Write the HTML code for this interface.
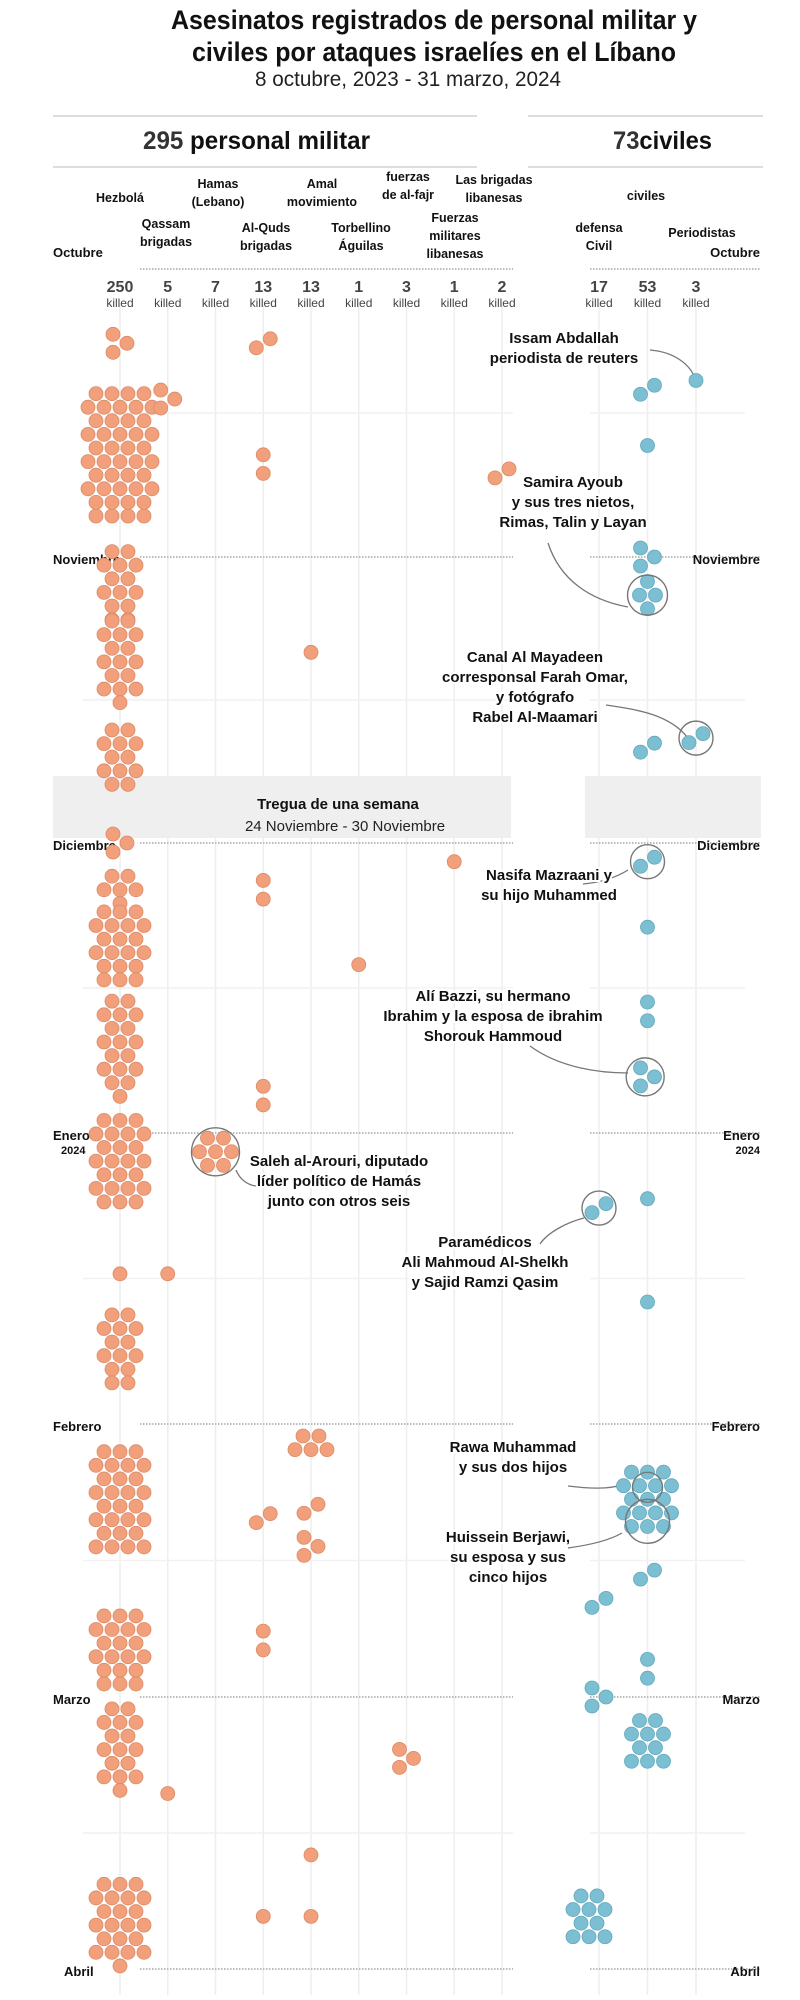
<!DOCTYPE html>
<html><head><meta charset="utf-8">
<style>
html,body{margin:0;padding:0;background:#fff;}
svg{display:block;}
text{font-family:"Liberation Sans Narrow","Liberation Sans",sans-serif;}
.b{font-weight:bold;fill:#111;}
</style></head>
<body>
<svg id="chart" width="800" height="2000" viewBox="0 0 800 2000" xmlns="http://www.w3.org/2000/svg">
<g>
<text x="171" y="29" textLength="526" lengthAdjust="spacingAndGlyphs" class="b" font-size="27">Asesinatos registrados de personal militar y</text>
<text x="192" y="61" textLength="484" lengthAdjust="spacingAndGlyphs" class="b" font-size="27">civiles por ataques israelíes en el Líbano</text>
<text x="255" y="86" textLength="306" lengthAdjust="spacingAndGlyphs" font-size="21" fill="#222">8 octubre, 2023 - 31 marzo, 2024</text>
</g>
<g>
<line x1="53" y1="116" x2="477" y2="116" stroke="#ddd" stroke-width="2"/>
<line x1="528" y1="116" x2="763" y2="116" stroke="#ddd" stroke-width="2"/>
<line x1="53" y1="167" x2="477" y2="167" stroke="#ddd" stroke-width="2"/>
<line x1="528" y1="167" x2="763" y2="167" stroke="#ddd" stroke-width="2"/>
<text x="143" y="149" font-size="25" textLength="227" lengthAdjust="spacingAndGlyphs" class="b"><tspan fill="#333">295</tspan> personal militar</text>
<text x="613" y="149" font-size="25" textLength="99" lengthAdjust="spacingAndGlyphs" class="b"><tspan fill="#333">73</tspan>civiles</text>
</g>
<g id="grid"></g>
<rect x="53" y="776" width="458" height="62" fill="#efefef"/>
<rect x="585" y="776" width="176" height="62" fill="#efefef"/>
<text x="338" y="809" text-anchor="middle" class="b" font-size="15">Tregua de una semana</text>
<text x="345" y="831" text-anchor="middle" font-size="15" fill="#222">24 Noviembre - 30 Noviembre</text>
<g id="months"></g>
<g id="heads"></g>
<g id="leaders" fill="none" stroke="#777" stroke-width="1.3">
<path d="M650,350 C675,352 690,365 695,378"/>
<path d="M548,543 C560,580 590,600 628,607"/>
<path d="M606,705 C640,710 670,715 688,738"/>
<path d="M583,884 C605,882 620,875 628,870"/>
<path d="M530,1046 C560,1068 600,1073 628,1073"/>
<path d="M236,1170 C240,1180 248,1185 256,1186"/>
<path d="M540,1244 C548,1232 568,1222 584,1218"/>
<path d="M568,1486 C600,1490 615,1488 628,1483"/>
<path d="M568,1548 C590,1545 610,1540 622,1533"/>
</g>
<g id="dots"></g>
<g id="notes"></g>
</svg>
<script>
// ---- data ----
const categories = ["Hezbolá","Qassam brigadas","Hamas (Lebano)","Al-Quds brigadas","Amal movimiento","Torbellino Águilas","fuerzas de al-fajr","Fuerzas militares libanesas","Las brigadas libanesas","defensa Civil","civiles","Periodistas"];
const killedLabels = ["250","5","7","13","13","1","3","1","2","17","53","3"];
const groupCategory = [0,0,0,0,0,0,0,0,0,0,0,0,0,0,0,0, 1,1,1, 2, 3,3,3,3,3,3,3,3,3,3,3, 4,4,4,4,4,4, 5, 6, 7, 8, 9,9,9,9, 10,10,10,10,10,10,10,10,10,10,10,10,10,10,10,10,10, 11,11];
const groupDate = ["2023-10-09","2023-10-21","2023-11-04","2023-11-12","2023-11-22","2023-12-01","2023-12-06","2023-12-12","2023-12-23","2024-01-04","2024-01-16","2024-01-24","2024-02-09","2024-02-25","2024-03-07","2024-03-27",
 "2023-10-15","2024-01-16","2024-03-12",
 "2024-01-03",
 "2023-10-09","2023-10-21","2023-10-23","2023-12-05","2023-12-07","2023-12-27","2023-12-29","2024-02-11","2024-02-23","2024-02-25","2024-03-26",
 "2023-11-11","2024-02-03","2024-02-10","2024-02-14","2024-03-19","2024-03-26",
 "2023-12-14","2024-03-08","2023-12-03","2023-10-23",
 "2024-01-09","2024-02-20","2024-03-01","2024-03-26",
 "2023-10-14","2023-10-20","2023-11-01","2023-11-05","2023-11-21","2023-12-03","2023-12-10","2023-12-18","2023-12-20","2023-12-26","2024-01-08","2024-01-19","2024-02-09","2024-02-17","2024-02-26","2024-02-28","2024-03-06",
 "2023-10-13","2023-11-20"];
const groupCount = [3,44,14,16,12,3,6,20,18,24,1,14,28,20,16,22,
 3,1,1,
 7,
 2,1,1,1,1,1,1,2,1,1,1,
 1,5,2,3,1,1,
 1,3,1,2,
 2,2,3,10,
 2,1,3,4,2,2,1,1,1,3,1,1,17,2,1,1,10,
 1,2];
const monthLabels = ["Octubre","Noviembre","Diciembre","Enero","Febrero","Marzo","Abril"];
const monthStarts = ["2023-10-01","2023-11-01","2023-12-01","2024-01-01","2024-02-01","2024-03-01","2024-04-01"];
// annotations: group index that is circled, text lines
const noteGroups = [62,48,63,50,54,19,41,57,57];
const noteText = [
 ["Issam Abdallah","periodista de reuters"],
 ["Samira Ayoub","y sus tres nietos,","Rimas, Talin y Layan"],
 ["Canal Al Mayadeen","corresponsal Farah Omar,","y fotógrafo","Rabel Al-Maamari"],
 ["Nasifa Mazraani y","su hijo Muhammed"],
 ["Alí Bazzi, su hermano","Ibrahim y la esposa de ibrahim","Shorouk Hammoud"],
 ["Saleh al-Arouri, diputado","líder político de Hamás","junto con otros seis"],
 ["Paramédicos","Ali Mahmoud Al-Shelkh","y Sajid Ramzi Qasim"],
 ["Rawa Muhammad","y sus dos hijos"],
 ["Huissein Berjawi,","su esposa y sus","cinco hijos"]];

// ---- scales ----
const NS="http://www.w3.org/2000/svg";
const DAY=86400000;
const t0=Date.UTC(2023,9,1);
function dayNum(s){const p=s.split("-");return (Date.UTC(+p[0],+p[1]-1,+p[2])-t0)/DAY;}
const monthDays=monthStarts.map(dayNum);
const axisTop=269, axisPix=[0,288,574,864,1155,1428,1700];
function yScale(s){const d=dayNum(s);
 for(let i=0;i<monthDays.length-1;i++){ if(d<=monthDays[i+1]||i==monthDays.length-2){
  const f=(d-monthDays[i])/(monthDays[i+1]-monthDays[i]); return axisTop+axisPix[i]+f*(axisPix[i+1]-axisPix[i]);}}
}
function xScale(ci){ return ci<9 ? 120+ci*47.75 : 599+(ci-9)*48.5; }
function mk(tag,attrs,parent){const e=document.createElementNS(NS,tag);for(const k in attrs)e.setAttribute(k,attrs[k]);parent.appendChild(e);return e;}

// ---- grid ----
const grid=document.getElementById("grid");
categories.forEach((c,i)=>{const l=mk("line",{x1:xScale(i),x2:xScale(i),y1:305,y2:1995,stroke:"#eeeeee","stroke-width":1.5},grid);
 
 });
for(let i=0;i<monthStarts.length-1;i++){
 const ym=(yScale(monthStarts[i])+yScale(monthStarts[i+1]))/2;
 [[83,513],[590,745]].forEach(r=>{const l=mk("line",{x1:r[0],x2:r[1],y1:ym,y2:ym,stroke:"#f1f1f1","stroke-width":1.5},grid);
  
  });
}
// ---- months ----
const mg=document.getElementById("months");
monthStarts.forEach((m,i)=>{
 const y=yScale(m);
 [[140,513],[590,760]].forEach(r=>{const l=mk("line",{x1:r[0],x2:r[1],y1:y,y2:y,stroke:"#bbb","stroke-width":2,"stroke-dasharray":"1.5 1.5"},mg);
  
  });
 const ly = i==0 ? y-12 : y+7;
 const lt=mk("text",{x: i==6?64:53, y:ly,"font-size":13,"class":"b"},mg);
 lt.textContent=monthLabels[i];
 
 
 const rt=mk("text",{x:760,y:ly,"font-size":13,"class":"b","text-anchor":"end"},mg);
 rt.textContent=monthLabels[i];
 
 
 if(i==3){[61,760].forEach((x,k)=>{const t=mk("text",{x:x,y:y+21,"font-size":11,"class":"b","text-anchor":k?"end":"start",fill:"#333"},mg);t.textContent="2024";
  
  });}
});
// ---- column headers ----
const hg=document.getElementById("heads");
const headLines=[["Hezbolá"],["Qassam","brigadas"],["Hamas","(Lebano)"],["Al-Quds","brigadas"],["Amal","movimiento"],["Torbellino","Águilas"],["fuerzas","de al-fajr"],["Fuerzas","militares","libanesas"],["Las brigadas","libanesas"],["defensa","Civil"],["civiles"],["Periodistas"]];
const headY=[202,228,188,232,188,232,181,222,184,232,200,237];
const headX=[120,166,218,266,322,361,408,455,494,599,646,702];
headLines.forEach((ls,i)=>{ls.forEach((s,k)=>{const t=mk("text",{x:headX[i],y:headY[i]+k*18,"text-anchor":"middle","font-size":12.5,"class":"b"},hg);t.textContent=s;
  
  });});
killedLabels.forEach((v,i)=>{const t=mk("text",{x:xScale(i),y:292,"text-anchor":"middle","font-size":16,"font-weight":"bold",fill:"#444"},hg);t.textContent=v;
 
 
 const k=mk("text",{x:xScale(i),y:307,"text-anchor":"middle","font-size":12,fill:"#444"},hg);k.textContent="killed";
 
 });

// ---- dots ----
const dg=document.getElementById("dots");
const centers=[];
groupCount.forEach((n,gi)=>{
 const ci=groupCategory[gi], cx=xScale(ci), cy=yScale(groupDate[gi]);
 const civ=ci>=9;
 const pts=[];
 if(n<=3){ for(let k=0;k<n;k++) pts.push([cx+(n==1?0:(k%2?7:-7)), cy+(k-(n-1)/2)*-9]); }
 else{
  const w= n>=40?5 : (n>=20||(civ&&n>=15))?4 : n>=5?3 : 2;
  const rows=[]; let left=n, r=0;
  while(left>0){const c=Math.min(left, r%2==0? w-1 : w); rows.push(c); left-=c; r++;}
  const dy=13.6, dx=16;
  rows.forEach((c,ri)=>{const y=cy+(ri-(rows.length-1)/2)*dy;
   for(let k=0;k<c;k++) pts.push([cx+(k-(c-1)/2)*dx + (ci==9&&n>=10?-10:0), y]);});
 }
 centers.push([pts.reduce((a,p)=>a+p[0],0)/pts.length, pts.reduce((a,p)=>a+p[1],0)/pts.length]);
 pts.forEach(p=>{const c=mk("circle",{cx:p[0],cy:p[1],r:7,fill:civ?"#7dbfd2":"#f2a07b",stroke:civ?"#62a8bc":"#db8a66","stroke-width":0.8},dg);
  
  });
});
// ---- annotations ----
const ng=document.getElementById("notes");
const noteX=[564,573,535,549,493,339,485,513,508];
const noteY=[343,487,662,880,1001,1166,1247,1452,1542];
const circR=[0,20,17,17,19,24,17,15,22];
noteGroups.forEach((g,i)=>{
 if(circR[i]>0){let c=centers[g]; let cy=c[1], cx=c[0];
  if(i==7){cy-=12;} if(i==8){cy+=22;}
  const o=mk("circle",{cx:cx,cy:cy,r:circR[i],fill:"none",stroke:"#777","stroke-width":1.4},ng);
  
  }
 noteText[i].forEach((s,k)=>{
  const bg=mk("text",{x:noteX[i],y:noteY[i]+k*20,"text-anchor":"middle","font-size":15,"class":"b",stroke:"#fff","stroke-width":4,"paint-order":"stroke"},ng);
  bg.textContent=s;
  
  });
});
</script>
</body></html>
